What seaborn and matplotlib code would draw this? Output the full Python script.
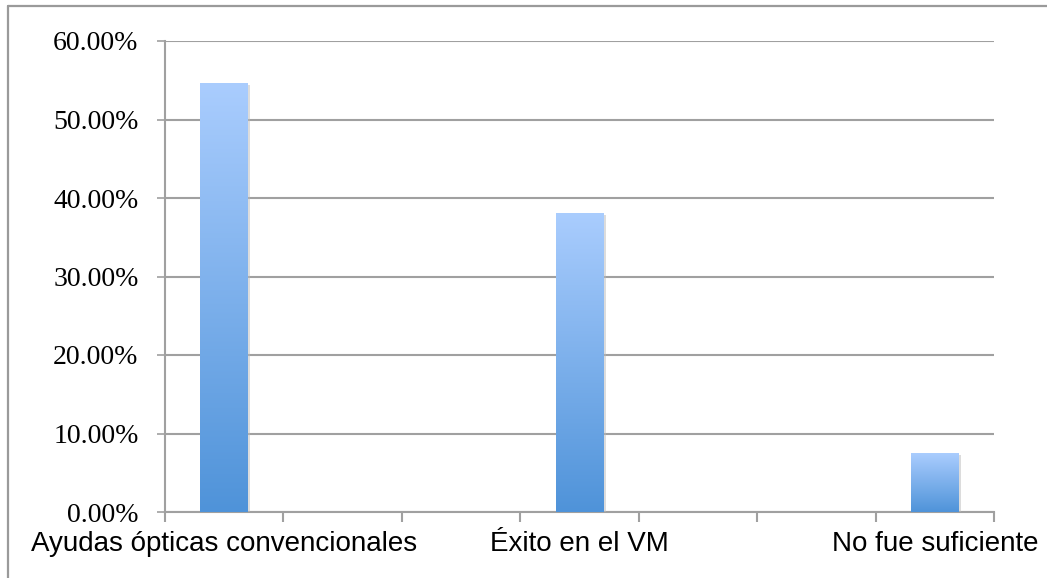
import numpy as np
import pandas as pd
import matplotlib
matplotlib.use('Agg')
import matplotlib.pyplot as plt
import matplotlib.patheffects as pe
from matplotlib.colors import LinearSegmentedColormap
from matplotlib.ticker import FixedLocator, PercentFormatter
import seaborn as sns

# data
categories = ["Ayudas ópticas convencionales", "Éxito en el VM", "No fue suficiente"]
values = [54.7, 38.1, 7.5]
# the category axis has 7 slots, the empty ones carry no bar and no label
slot_order = ["Ayudas ópticas convencionales", " ", "  ", "Éxito en el VM",
              "   ", "    ", "No fue suficiente"]
y_ticks = [0, 10, 20, 30, 40, 50, 60]

GRAY = '#a0a0a0'
TOP_BLUE = '#aacdfe'
BOTTOM_BLUE = '#4f93d9'

sns.set_style('white')
plt.rcParams['font.family'] = ['Liberation Sans', 'DejaVu Sans']

df = pd.DataFrame({'cat': categories, 'val': values})

fig = plt.figure(figsize=(10.47, 5.78), dpi=100)
ax = fig.add_axes([165 / 1047, 1 - 512 / 578, (994 - 165) / 1047, (512 - 41) / 578])

sns.barplot(data=df, x='cat', y='val', order=slot_order, width=0.405,
            color=BOTTOM_BLUE, saturation=1, ax=ax, zorder=3)

ax.set_xlim(-0.5, len(slot_order) - 0.5)
ax.set_ylim(y_ticks[0], y_ticks[-1])

# gradient fill clipped to each bar
cmap = LinearSegmentedColormap.from_list('bar', [BOTTOM_BLUE, TOP_BLUE])
grad = np.linspace(0, 1, 256).reshape(-1, 1)
for patch in ax.patches:
    x0, y0 = patch.get_x(), patch.get_y()
    w, h = patch.get_width(), patch.get_height()
    if h <= 0:
        continue
    patch.set_edgecolor('none')
    patch.set_path_effects([pe.SimplePatchShadow(offset=(1.5, -1.5), shadow_rgbFace='#bbbbbb', alpha=0.5),
                            pe.Normal()])
    im = ax.imshow(grad, extent=[x0, x0 + w, y0, y0 + h], origin='lower', cmap=cmap,
                   aspect='auto', zorder=4, interpolation='bicubic')
    im.set_clip_path(patch)

# y axis: serif percentages, gridlines
ax.set_yticks(y_ticks)
ax.yaxis.set_major_formatter(PercentFormatter(decimals=2))
ax.yaxis.grid(True, color=GRAY, linewidth=1.5, zorder=0)
ax.set_axisbelow(True)
for lab in ax.get_yticklabels():
    lab.set_family(['Liberation Serif', 'DejaVu Serif'])
    lab.set_fontsize(20)
ax.tick_params(axis='y', length=6, width=1.2, color=GRAY, pad=13, left=True, labelcolor='black')

# x axis: labels at slot centres, ticks at slot boundaries
ax.set_xticks(range(len(slot_order)))
ax.set_xticklabels(slot_order, fontsize=20)
ax.xaxis.set_minor_locator(FixedLocator(np.arange(-0.5, len(slot_order), 1.0)))
ax.tick_params(axis='x', which='major', length=0, pad=14, labelcolor='black')
ax.tick_params(axis='x', which='minor', length=7, width=1.5, color=GRAY, bottom=True)
ax.set_xlabel('')
ax.set_ylabel('')

for side in ['top', 'right']:
    ax.spines[side].set_visible(False)
for side in ['left', 'bottom']:
    ax.spines[side].set_color(GRAY)
    ax.spines[side].set_linewidth(1.5)

# outer chart frame (only top and left edges fall inside the picture)
fig.add_artist(plt.Line2D([8 / 1047, 1.0], [1 - 6 / 578, 1 - 6 / 578],
                          transform=fig.transFigure, color='#9a9a9a', linewidth=1.6))
fig.add_artist(plt.Line2D([8 / 1047, 8 / 1047], [0.0, 1 - 6 / 578],
                          transform=fig.transFigure, color='#9a9a9a', linewidth=1.6))

fig.savefig('out.png', dpi=100, facecolor='white')
